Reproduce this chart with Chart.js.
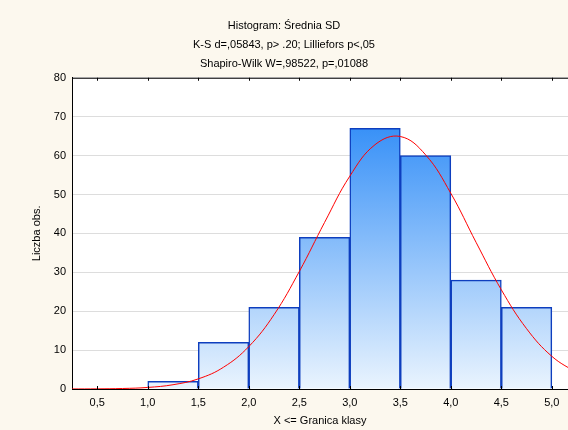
<!DOCTYPE html>
<html>
<head>
<meta charset="utf-8">
<script src="https://cdn.jsdelivr.net/npm/chart.js@4"></script>
<style>
  body { margin: 0; background: #fcf8ee; }
  canvas { display: block; background: #fcf8ee; }
</style>
</head>
<body>
<canvas id="histChart" width="568" height="430"></canvas>
<script>
// bins of width 0.5, placed at their centres
const binCenters = [0.75, 1.25, 1.75, 2.25, 2.75, 3.25, 3.75, 4.25, 4.75];
const binCounts = [0, 2, 12, 21, 39, 67, 60, 28, 21];

// expected normal curve
const curveX = [0.25, 0.5, 0.75, 1.0, 1.25, 1.5, 1.75, 2.0, 2.25, 2.5, 2.75,
  3.0, 3.25, 3.5, 3.75, 4.0, 4.25, 4.5, 4.75, 5.0, 5.25];
const curveY = [0.01, 0.04, 0.13, 0.4, 1.1, 2.6, 5.6, 10.9, 19.1, 30.2, 42.8,
  54.7, 62.8, 64.9, 60.2, 50.3, 37.7, 25.5, 15.5, 8.4, 4.1];

const xTicks = [0.5, 1.0, 1.5, 2.0, 2.5, 3.0, 3.5, 4.0, 4.5, 5.0];
const titleLines = ['Histogram: Średnia SD', 'K-S d=,05843, p> .20; Lilliefors p<,05', 'Shapiro-Wilk W=,98522, p=,01088'];

let grad = null;
function barFill(context) {
  const area = context.chart.chartArea;
  if (!area) return 'rgb(100,170,250)';
  if (!grad) {
    grad = context.chart.ctx.createLinearGradient(0, area.top, 0, area.bottom);
    grad.addColorStop(0, 'rgb(22,126,246)');
    grad.addColorStop(1, 'rgb(234,244,254)');
  }
  return grad;
}

const plotFrame = {
  id: 'plotFrame',
  beforeDraw(chart) {
    const {ctx, chartArea: a} = chart;
    ctx.save();
    ctx.fillStyle = '#ffffff';
    ctx.fillRect(a.left, a.top, a.right - a.left, a.bottom - a.top);
    ctx.restore();
  },
  afterDraw(chart) {
    const {ctx, chartArea: a} = chart;
    const xs = chart.scales.x;
    ctx.save();
    ctx.strokeStyle = '#000';
    ctx.lineWidth = 1;
    ctx.beginPath();
    ctx.moveTo(a.left, a.top + 0.5);
    ctx.lineTo(a.right, a.top + 0.5);
    xTicks.forEach(v => {
      const px = Math.round(xs.getPixelForValue(v)) + 0.5;
      ctx.moveTo(px, a.top);
      ctx.lineTo(px, a.top + 3);
      ctx.moveTo(px, a.bottom);
      ctx.lineTo(px, a.bottom - 3);
    });
    ctx.stroke();
    ctx.restore();
  }
};

const ctx = document.getElementById('histChart').getContext('2d');
const chart = new Chart(ctx, {
  type: 'bar',
  data: {
    datasets: [{
      type: 'line',
      data: curveX.map((x, i) => ({x: x, y: curveY[i]})),
      borderColor: 'rgb(255,0,0)',
      borderWidth: 1,
      pointRadius: 0,
      tension: 0.4,
      fill: false
    }, {
      type: 'bar',
      data: binCenters.map((x, i) => ({x: x, y: binCounts[i]})),
      backgroundColor: barFill,
      borderColor: 'rgb(14,62,190)',
      borderWidth: 1.5,
      barPercentage: 1,
      categoryPercentage: 1
    }]
  },
  options: {
    responsive: false,
    animation: false,
    layout: { padding: 0 },
    plugins: {
      legend: { display: false },
      tooltip: { enabled: false },
      title: {
        display: true,
        text: titleLines,
        color: '#000',
        font: { family: 'Liberation Sans, Arial', size: 11, weight: 'normal', lineHeight: 1.75 },
        padding: { top: 16, bottom: 4 }
      }
    },
    scales: {
      x: {
        type: 'linear',
        offset: false,
        min: 0.25,
        max: 5.16,
        afterBuildTicks: s => { s.ticks = xTicks.map(v => ({value: v})); },
        afterFit: s => { s.height = 41; },
        grid: { display: false, drawTicks: false, offset: false },
        border: { display: true, color: '#000', width: 1 },
        ticks: {
          padding: 7,
          color: '#000',
          font: { family: 'Liberation Sans, Arial', size: 11 },
          callback: v => v.toFixed(1).replace('.', ',')
        },
        title: {
          display: true,
          text: 'X <= Granica klasy',
          color: '#000',
          font: { family: 'Liberation Sans, Arial', size: 11 },
          padding: { top: 2, bottom: 2 }
        }
      },
      y: {
        min: 0,
        max: 80,
        afterFit: s => { s.width = 72; },
        grid: { color: '#dddddd', lineWidth: 1, drawTicks: false },
        border: { display: true, color: '#000', width: 1 },
        ticks: {
          stepSize: 10,
          padding: 6,
          color: '#000',
          font: { family: 'Liberation Sans, Arial', size: 11 }
        },
        title: {
          display: true,
          text: 'Liczba obs.',
          color: '#000',
          font: { family: 'Liberation Sans, Arial', size: 11 },
          padding: { top: 30, bottom: 0 }
        }
      }
    }
  },
  plugins: [plotFrame]
});
</script>
</body>
</html>
